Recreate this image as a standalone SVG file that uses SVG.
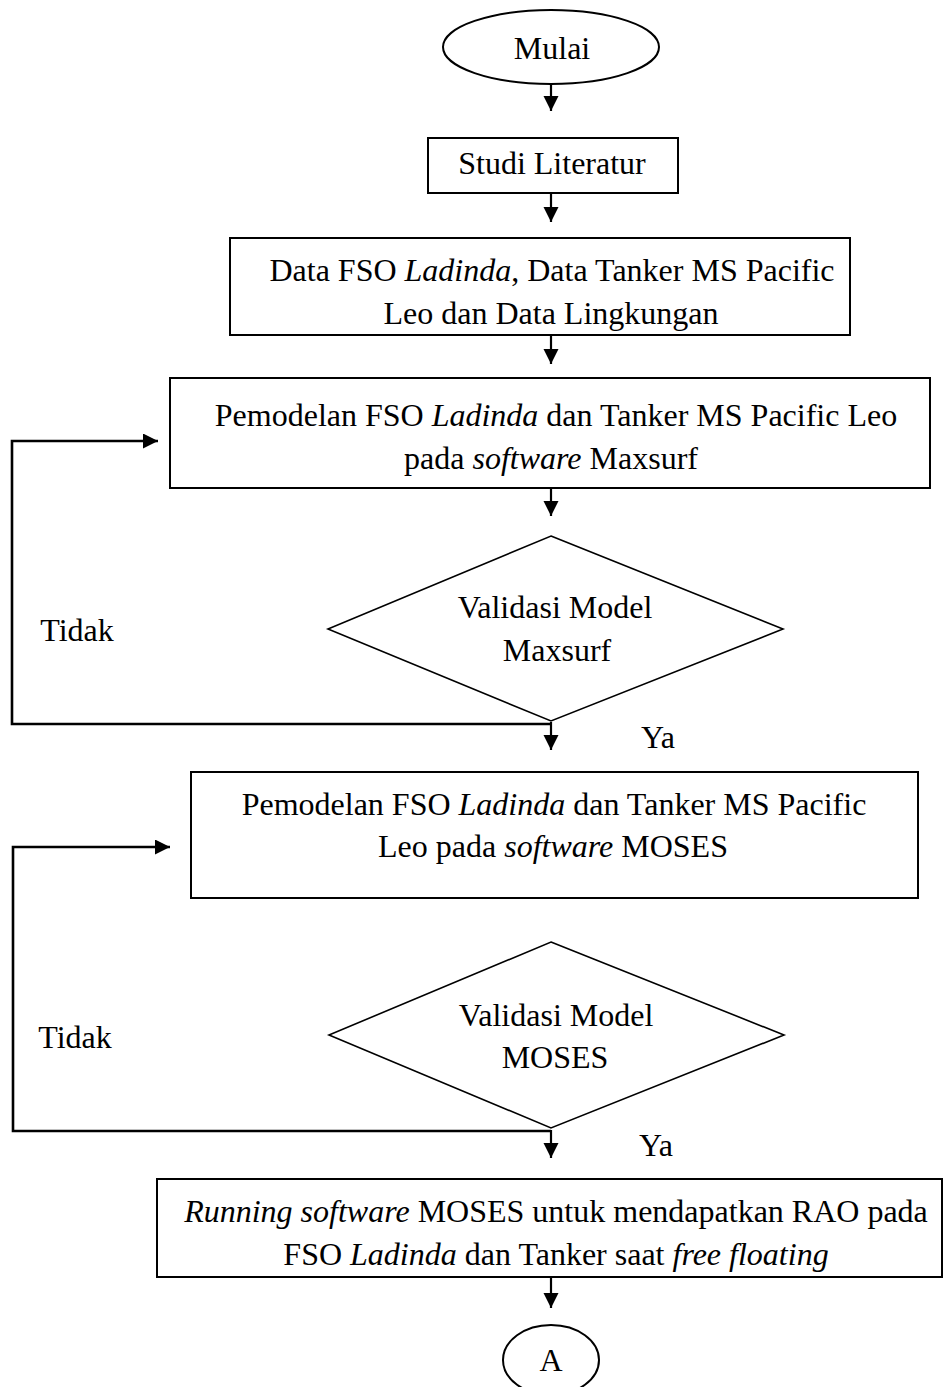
<svg xmlns="http://www.w3.org/2000/svg" width="944" height="1387" viewBox="0 0 944 1387">
<style>
.shape{fill:#fff;stroke:#000;stroke-width:2}
.dia{fill:#fff;stroke:#000;stroke-width:1.6}
.t{font-family:"Liberation Serif","Times New Roman",serif;font-size:32px;fill:#000;text-anchor:middle}
.i{font-style:italic}
.c{fill:none;stroke:#000;stroke-width:2.2}
.lp{fill:none;stroke:#000;stroke-width:2.6}
</style>
<defs>
<marker id="ah" markerWidth="16" markerHeight="16" refX="15" refY="7.5" orient="auto" markerUnits="userSpaceOnUse">
<path d="M0,0 L15,7.5 L0,15 Z" fill="#000"/>
</marker>
</defs>
<rect width="944" height="1387" fill="#fff"/>
<g id="connectors">
<line class="c" x1="551" y1="84" x2="551" y2="111" marker-end="url(#ah)"/>
<line class="c" x1="551" y1="194" x2="551" y2="222" marker-end="url(#ah)"/>
<line class="c" x1="551" y1="336" x2="551" y2="364" marker-end="url(#ah)"/>
<line class="c" x1="551" y1="489" x2="551" y2="516" marker-end="url(#ah)"/>
<polyline class="lp" points="551,724 12,724 12,441 158,441" marker-end="url(#ah)"/>
<line class="c" x1="551" y1="722" x2="551" y2="750" marker-end="url(#ah)"/>
<polyline class="lp" points="551,1131 13,1131 13,847 170,847" marker-end="url(#ah)"/>
<line class="c" x1="551" y1="1130" x2="551" y2="1158" marker-end="url(#ah)"/>
<line class="c" x1="551" y1="1278" x2="551" y2="1308" marker-end="url(#ah)"/>
<text class="t" x="77" y="641">Tidak</text>
<text class="t" x="658" y="748">Ya</text>
<text class="t" x="75" y="1048">Tidak</text>
<text class="t" x="656" y="1156">Ya</text>
</g>
<g id="mulai">
<ellipse class="shape" cx="551" cy="47" rx="108" ry="37"/>
<text class="t" x="552" y="59">Mulai</text>
</g>
<g id="studi">
<rect class="shape" x="428" y="138" width="250" height="55"/>
<text class="t" x="552" y="174">Studi Literatur</text>
</g>
<g id="data">
<rect class="shape" x="230" y="238" width="620" height="97"/>
<text class="t" x="552" y="281">Data FSO <tspan class="i">Ladinda</tspan>, Data Tanker MS Pacific</text>
<text class="t" x="551" y="324">Leo dan Data Lingkungan</text>
</g>
<g id="maxsurf-model">
<rect class="shape" x="170" y="378" width="760" height="110"/>
<text class="t" x="556" y="426">Pemodelan FSO <tspan class="i">Ladinda</tspan> dan Tanker MS Pacific Leo</text>
<text class="t" x="551" y="469">pada <tspan class="i">software</tspan> Maxsurf</text>
</g>
<g id="validasi-maxsurf">
<polygon class="dia" points="551,536 783,629 551,721 328,629"/>
<text class="t" x="555" y="618">Validasi Model</text>
<text class="t" x="557" y="661">Maxsurf</text>
</g>
<g id="moses-model">
<rect class="shape" x="191" y="772" width="727" height="126"/>
<text class="t" x="554" y="815">Pemodelan FSO <tspan class="i">Ladinda</tspan> dan Tanker MS Pacific</text>
<text class="t" x="553" y="857">Leo pada <tspan class="i">software</tspan> MOSES</text>
</g>
<g id="validasi-moses">
<polygon class="dia" points="551,942 784,1035 551,1128 329,1035"/>
<text class="t" x="556" y="1026">Validasi Model</text>
<text class="t" x="555" y="1068">MOSES</text>
</g>
<g id="running">
<rect class="shape" x="157" y="1179" width="785" height="98"/>
<text class="t" x="556" y="1222"><tspan class="i">Running software</tspan> MOSES untuk mendapatkan RAO pada</text>
<text class="t" x="556" y="1265">FSO <tspan class="i">Ladinda</tspan> dan Tanker saat <tspan class="i">free floating</tspan></text>
</g>
<g id="a">
<ellipse class="shape" cx="551" cy="1360" rx="48" ry="35"/>
<text class="t" x="551" y="1371">A</text>
</g>
</svg>
